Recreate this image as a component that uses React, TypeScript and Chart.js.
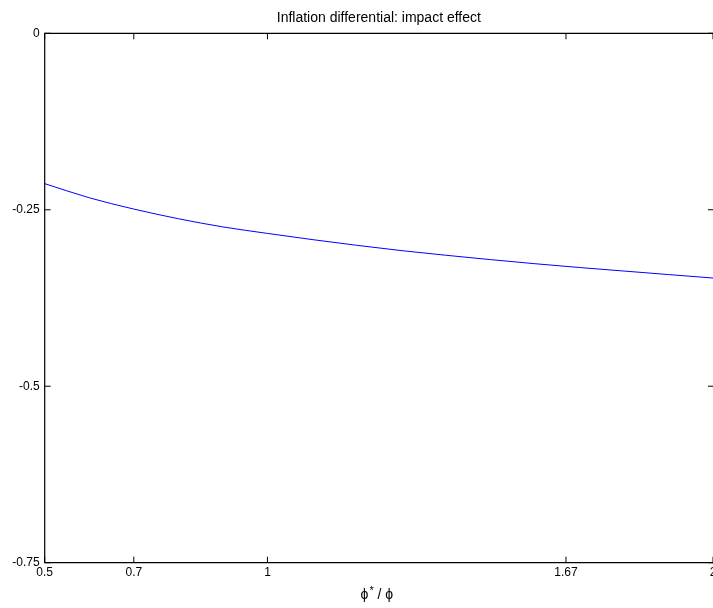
import React, { useEffect, useRef } from "react";
import { Chart, registerables } from "chart.js";

Chart.register(...registerables);

const titleText = "Inflation differential: impact effect";
const xLabelMain = "ϕ";
const xLabelSup = "*";
const xLabelRest = " / ϕ";

const xValues = [0.5, 0.6, 0.7, 0.8, 0.9, 1.0, 1.1, 1.2, 1.3, 1.4, 1.5, 1.6, 1.7, 1.8, 1.9, 2.0];
const yValues = [
  -0.213, -0.233, -0.249, -0.2627, -0.2743, -0.2835, -0.2922, -0.3003,
  -0.3078, -0.3144, -0.3206, -0.3264, -0.3318, -0.3368, -0.3418, -0.3467,
];

const xTickValues = [0.5, 0.7, 1, 1.67, 2];
const xTickLabels = ["0.5", "0.7", "1", "1.67", "2"];
const yTickValues = [-0.75, -0.5, -0.25, 0];
const yTickLabels = ["-0.75", "-0.5", "-0.25", "0"];

const FONT = "'Liberation Sans', Arial, Helvetica, sans-serif";

const framePlugin = {
  id: "matlabFrame",
  afterDraw(chart: any) {
    const { ctx, chartArea } = chart;
    const { left, right, top, bottom } = chartArea;
    const xs = chart.scales.x;
    const ys = chart.scales.y;
    const tick = 6;
    ctx.save();
    ctx.strokeStyle = "#000";
    ctx.lineWidth = 1.2;
    ctx.beginPath();
    ctx.moveTo(right + 2, top);
    ctx.lineTo(left, top);
    ctx.lineTo(left, bottom);
    ctx.lineTo(right + 2, bottom);
    ctx.stroke();
    ctx.lineWidth = 1;
    ctx.beginPath();
    xTickValues.forEach((v) => {
      const px = xs.getPixelForValue(v);
      ctx.moveTo(px, bottom);
      ctx.lineTo(px, bottom - tick);
      ctx.moveTo(px, top);
      ctx.lineTo(px, top + tick);
    });
    yTickValues.forEach((v) => {
      const py = ys.getPixelForValue(v);
      ctx.moveTo(left, py);
      ctx.lineTo(left + tick, py);
      ctx.moveTo(right + 1, py);
      ctx.lineTo(right + 1 - tick, py);
    });
    ctx.stroke();

    ctx.fillStyle = "#000";
    ctx.font = `14px ${FONT}`;
    ctx.textAlign = "center";
    ctx.textBaseline = "alphabetic";
    const cx = (left + right) / 2;
    ctx.fillText(titleText, cx, 22);

    // x-axis label with superscript asterisk
    const mainFont = `14px ${FONT}`;
    const supFont = `11px ${FONT}`;
    ctx.font = mainFont;
    const w1 = ctx.measureText(xLabelMain).width;
    const w3 = ctx.measureText(xLabelRest).width;
    ctx.font = supFont;
    const w2 = ctx.measureText(xLabelSup).width;
    const total = w1 + w2 + 1 + w3;
    let x0 = cx - total / 2 - 2;
    const base = 599;
    ctx.textAlign = "left";
    ctx.font = mainFont;
    ctx.fillText(xLabelMain, x0, base);
    x0 += w1;
    ctx.font = supFont;
    ctx.fillText(xLabelSup, x0 + 1, base - 5);
    x0 += w2 + 1;
    ctx.font = mainFont;
    ctx.fillText(xLabelRest, x0, base);
    ctx.restore();
  },
};

export default function App() {
  const canvasRef = useRef<HTMLCanvasElement | null>(null);

  useEffect(() => {
    document.body.style.margin = "0";
    const canvas = canvasRef.current;
    if (!canvas) return;
    const points = xValues.map((x, i) => ({ x, y: yValues[i] }));
    const chart = new Chart(canvas, {
      type: "line",
      data: {
        datasets: [
          {
            data: points,
            borderColor: "#0000ff",
            borderWidth: 1,
            pointRadius: 0,
            fill: false,
            cubicInterpolationMode: "monotone",
          },
        ],
      },
      options: {
        animation: false,
        responsive: true,
        maintainAspectRatio: false,
        layout: { padding: { top: 33.3, left: 0, right: 0, bottom: 0 } },
        plugins: {
          legend: { display: false },
          title: { display: false },
          tooltip: { enabled: false },
        },
        scales: {
          x: {
            type: "linear",
            min: 0.5,
            max: 2,
            grid: { display: false, drawTicks: false },
            border: { display: false },
            afterBuildTicks: (scale: any) => {
              scale.ticks = xTickValues.map((v) => ({ value: v }));
            },
            afterFit: (scale: any) => {
              scale.height = 45.3;
              scale.paddingLeft = 0;
              scale.paddingRight = 0;
            },
            ticks: {
              autoSkip: false,
              maxRotation: 0,
              minRotation: 0,
              padding: 3,
              color: "#000",
              font: { family: FONT, size: 12 },
              callback: (value: any) => {
                const i = xTickValues.indexOf(Number(value));
                return i >= 0 ? xTickLabels[i] : "";
              },
            },
          },
          y: {
            type: "linear",
            min: -0.75,
            max: 0,
            grid: { display: false, drawTicks: false },
            border: { display: false },
            afterBuildTicks: (scale: any) => {
              scale.ticks = yTickValues.map((v) => ({ value: v }));
            },
            afterFit: (scale: any) => {
              scale.width = 44.7;
              scale.paddingTop = 0;
              scale.paddingBottom = 0;
            },
            ticks: {
              autoSkip: false,
              padding: 5,
              color: "#000",
              font: { family: FONT, size: 12 },
              callback: (value: any) => {
                const i = yTickValues.indexOf(Number(value));
                return i >= 0 ? yTickLabels[i] : "";
              },
            },
          },
        },
      },
      plugins: [framePlugin],
    });
    return () => chart.destroy();
  }, []);

  return (
    <div style={{ position: "relative", width: 713, height: 608 }}>
      <canvas ref={canvasRef} />
    </div>
  );
}
